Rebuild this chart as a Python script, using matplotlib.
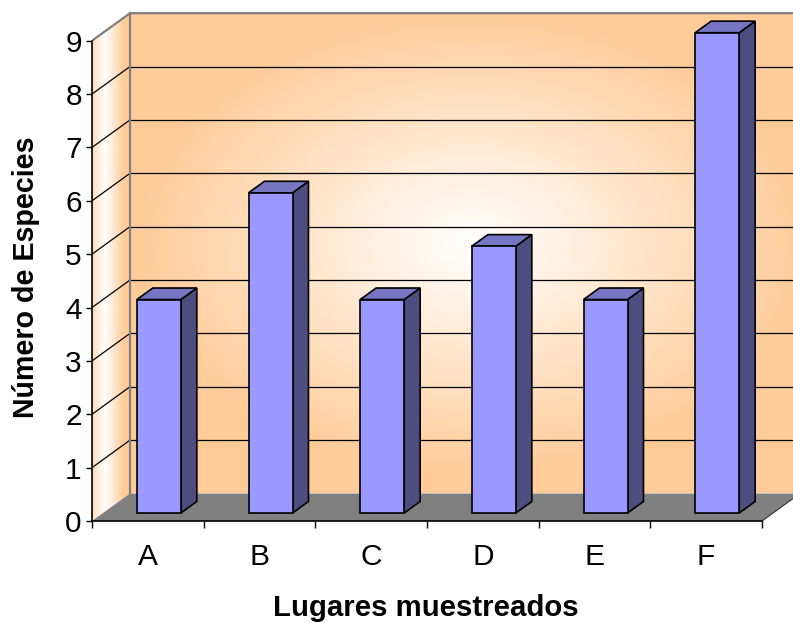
import numpy as np
import matplotlib.pyplot as plt
from matplotlib.patches import Polygon, Rectangle

plt.rcParams['font.family'] = ['Liberation Sans', 'DejaVu Sans']

categories = ['A', 'B', 'C', 'D', 'E', 'F']
especies = [4, 6, 4, 5, 4, 9]
yticks = list(range(10))

W, H = 793, 623
fig = plt.figure(figsize=(W / 100, H / 100), dpi=100)
ax = fig.add_axes([92 / W, 102 / H, 701 / W, 521 / H])

# pixel scales of the front plane
xs = 670 / 6
ys = (521 - 40.7) / 9
xmax = 701 / xs
ymax = 521 / ys
# depth offset of the back wall (data units)
dx = 38 / xs
dy = 27.5 / ys
ntop = yticks[-1]
ncat = len(categories)

peach = np.array([1.0, 0.8, 0.6])
white = np.array([1.0, 1.0, 1.0])

# back wall, radial gradient
u = np.linspace(0, 1, 400)
v = np.linspace(0, 1, 300)
U, V = np.meshgrid(u, v)
d = np.sqrt(((U - 0.51) / 0.5) ** 2 + ((V - 0.52) / 0.48) ** 2)
t = np.clip(d, 0, 1)[..., None]
img = white * (1 - t) + peach * t
ax.imshow(img, extent=[dx, ncat + dx, dy, ntop + dy], origin='lower',
          aspect='auto', zorder=0, interpolation='bilinear')

# side wall, horizontal gradient
side = Polygon([(0, 0), (dx, dy), (dx, ntop + dy), (0, ntop)], closed=True,
               facecolor='none', edgecolor='none')
ax.add_patch(side)
px = 92 + np.linspace(0, 1, 100) * 38
ts = np.clip(np.abs(px - 105) / 19, 0, 1)[None, :, None]
simg = white * (1 - ts) + peach * ts
simg = np.repeat(simg, 2, axis=0)
im2 = ax.imshow(simg, extent=[0, dx, 0, ntop + dy], origin='lower',
                aspect='auto', zorder=0, interpolation='bilinear')
im2.set_clip_path(side)

# floor
ax.add_patch(Polygon([(0, 0), (ncat, 0), (ncat + dx, dy), (dx, dy)], closed=True,
                     facecolor='#808080', edgecolor='none', zorder=1))
ax.plot([ncat, ncat + dx], [0, dy], color='#333333', lw=0.8, zorder=1.5, clip_on=False)

# gridlines
for g in yticks[1:-1]:
    ax.plot([dx, ncat + dx], [g + dy, g + dy], color='black', lw=0.9, zorder=2)
    ax.plot([0, dx], [g, g + dy], color='black', lw=0.9, zorder=2)

# wall borders
ax.plot([0, dx, ncat + dx], [ntop, ntop + dy, ntop + dy], color='#808080', lw=1.6, zorder=2)
ax.plot([dx, dx], [dy, ntop + dy], color='#808080', lw=1.6, zorder=2)

# bars
f0, f1 = 0.29, 0.71
w = 44 / xs
bdx = (f1 - f0) * dx
bdy = (f1 - f0) * dy
for i, val in enumerate(especies):
    x0 = i + 0.5 + f0 * dx - w / 2
    y0 = f0 * dy
    ec = dict(edgecolor='black', lw=1.2, joinstyle='miter')
    ax.add_patch(Polygon([(x0 + w, y0), (x0 + w + bdx, y0 + bdy),
                          (x0 + w + bdx, y0 + val + bdy), (x0 + w, y0 + val)],
                         closed=True, facecolor='#4d4d80', zorder=5, **ec))
    ax.add_patch(Polygon([(x0, y0 + val), (x0 + w, y0 + val),
                          (x0 + w + bdx, y0 + val + bdy), (x0 + bdx, y0 + val + bdy)],
                         closed=True, facecolor='#7676c2', zorder=5, **ec))
    ax.add_patch(Rectangle((x0, y0), w, val, facecolor='#9999ff', zorder=6, **ec))

ax.set_xlim(0, xmax)
ax.set_ylim(0, ymax)

for s in ['top', 'right']:
    ax.spines[s].set_visible(False)
ax.spines['left'].set_bounds(0, ntop)
ax.spines['bottom'].set_bounds(0, ncat)
for s in ['left', 'bottom']:
    ax.spines[s].set_linewidth(1.2)
    ax.spines[s].set_zorder(3)

ax.set_yticks(yticks)
ax.set_yticklabels([str(y) for y in yticks])
ax.tick_params(axis='y', length=4.3, width=1, pad=3, labelsize=21.5)
ax.set_xticks(range(ncat + 1))
ax.set_xticklabels([''] * (ncat + 1))
ax.set_xticks(np.arange(ncat) + 0.5, minor=True)
ax.set_xticklabels(categories, minor=True)
ax.tick_params(axis='x', which='major', length=5, width=1)
ax.tick_params(axis='x', which='minor', length=0, pad=16, labelsize=21.5)

fig.text(425.5 / W, 1 - 616 / H, 'Lugares muestreados', ha='center', va='baseline',
         fontsize=21.2, fontweight='bold')
fig.text(34 / W, 1 - 277 / H, 'Número de Especies', ha='center', va='baseline',
         rotation=90, rotation_mode='anchor', fontsize=20.6, fontweight='bold')

fig.savefig('out.png', dpi=100)
